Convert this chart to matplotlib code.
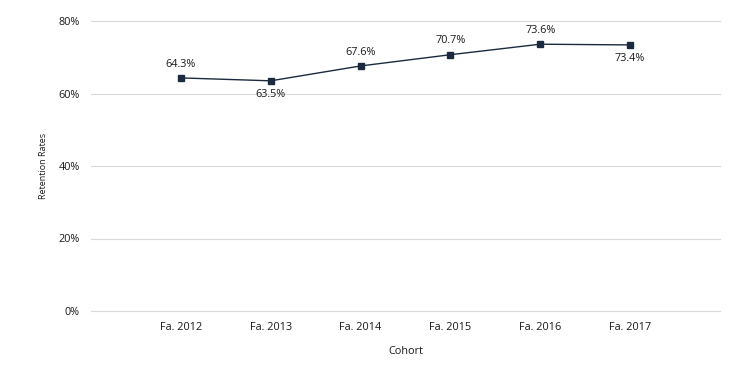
import matplotlib.pyplot as plt
from matplotlib.ticker import FuncFormatter

plt.rcParams['font.family'] = ['Open Sans', 'DejaVu Sans']

cohorts = ['Fa. 2012', 'Fa. 2013', 'Fa. 2014', 'Fa. 2015', 'Fa. 2016', 'Fa. 2017']
rates = [64.3, 63.5, 67.6, 70.7, 73.6, 73.4]
label_above = [True, False, True, True, True, False]

fig = plt.figure(figsize=(7.46, 3.73), dpi=100)
ax = fig.add_axes([91 / 746, 1 - 311 / 373, 629 / 746, 290 / 373])

x = list(range(len(cohorts)))
ax.plot(x, rates, color='#1b2a3e', lw=1, marker='s', ms=4.5, zorder=3)

for xi, v, up in zip(x, rates, label_above):
    ax.annotate('{:.1f}%'.format(v), (xi, v), xytext=(0, 6 if up else -6),
                textcoords='offset points', ha='center',
                va='bottom' if up else 'top', fontsize=7.8, color='#1a1a1a')

ax.set_xlim(-1, 6)
ax.set_ylim(0, 80)
ax.set_yticks([0, 20, 40, 60, 80])
ax.yaxis.set_major_formatter(FuncFormatter(lambda v, p: '{:.0f}%'.format(v)))
ax.set_xticks(x)
ax.set_xticklabels(cohorts)
ax.grid(axis='y', color='#d9d9d9', lw=0.8)
for gl in ax.get_ygridlines():
    gl.set_clip_on(False)
ax.set_axisbelow(True)
for s in ax.spines.values():
    s.set_visible(False)
ax.tick_params(length=0, labelsize=7.8, colors='#1a1a1a', pad=8)
ax.tick_params(axis='x', pad=8)

ax.set_xlabel('Cohort', fontsize=7.8, color='#1a1a1a', labelpad=9)
ax.set_ylabel('Retention Rates', fontsize=6.5, color='#1a1a1a', labelpad=8)

fig.savefig('out.png', dpi=100)
